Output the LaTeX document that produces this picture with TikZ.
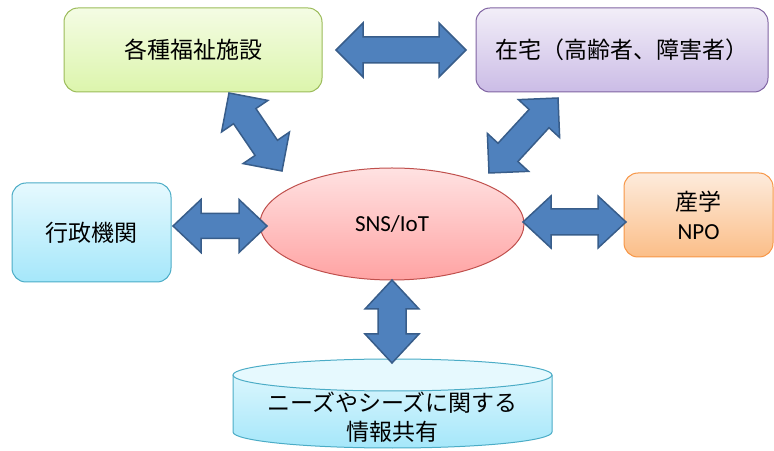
\documentclass[tikz,border=0pt]{standalone}
\usepackage{fontspec}
\setmainfont{Carlito}
\newfontfamily\cjk{Noto Sans CJK JP}
\usetikzlibrary{calc,shapes.geometric}
\definecolor{gTop}{HTML}{F4FCE4}
\definecolor{gBot}{HTML}{DCF5AC}
\definecolor{gLine}{HTML}{9BBB59}
\definecolor{pTop}{HTML}{F2EEF8}
\definecolor{pBot}{HTML}{CBBCE6}
\definecolor{pLine}{HTML}{8064A2}
\definecolor{bTop}{HTML}{E6F9FE}
\definecolor{bBot}{HTML}{A5E7FA}
\definecolor{bLine}{HTML}{4BACC6}
\definecolor{oTop}{HTML}{FDEBDC}
\definecolor{oBot}{HTML}{FBBE88}
\definecolor{oLine}{HTML}{F79646}
\definecolor{rTop}{HTML}{FFE2E2}
\definecolor{rBot}{HTML}{FFA3A3}
\definecolor{rLine}{HTML}{C0504D}
\definecolor{aFill}{HTML}{4F81BD}
\definecolor{aLine}{HTML}{385D8A}
\newcommand\dblarrow[5]{% tip A, tip B, head length, head half width, shaft half width
  \filldraw[arrowbody]
    (#1) -- ($(#1)!#3!(#2)!#4!90:(#2)$) -- ($(#1)!#3!(#2)!#5!90:(#2)$)
    -- ($(#2)!#3!(#1)!#5!-90:(#1)$) -- ($(#2)!#3!(#1)!#4!-90:(#1)$)
    -- (#2) -- ($(#2)!#3!(#1)!#4!90:(#1)$) -- ($(#2)!#3!(#1)!#5!90:(#1)$)
    -- ($(#1)!#3!(#2)!#5!-90:(#2)$) -- ($(#1)!#3!(#2)!#4!-90:(#2)$) -- cycle;}
\begin{document}
\begin{tikzpicture}[x=1pt,y=1pt,
  box/.style={rounded corners=14pt, line width=1pt, align=center,
    font=\fontsize{23}{29}\selectfont},
  cjkfont/.style={font=\cjk\fontsize{23}{29}\selectfont},
  arrowbody/.style={fill=aFill, draw=aLine, line width=1.5pt, line join=miter}]
\useasboundingbox (0,0) rectangle (774,450);
% boxes
\node[box, cjkfont, top color=gTop, bottom color=gBot, draw=gLine,
  minimum width=258pt, minimum height=84pt] (fac) at (193,400) {各種福祉施設};
\node[box, cjkfont, top color=pTop, bottom color=pBot, draw=pLine,
  minimum width=292pt, minimum height=84pt] (home) at (622,400) {在宅（高齢者、障害者）};
\node[box, cjkfont, top color=bTop, bottom color=bBot, draw=bLine,
  minimum width=159pt, minimum height=99pt] (gov) at (91.5,217.5) {行政機関};
\node[box, top color=oTop, bottom color=oBot, draw=oLine,
  minimum width=149pt, minimum height=84pt] (ind) at (698.5,235) {{\cjk 産学}\\NPO};
\node[ellipse, line width=1pt, top color=rTop, bottom color=rBot, draw=rLine,
  minimum width=264pt, minimum height=112pt,
  font=\fontsize{23}{29}\selectfont] (sns) at (392,226) {SNS/IoT};
% cylinder
\path[top color=bTop, bottom color=bBot]
  (233pt,75pt) -- (233pt,18pt) arc[start angle=180, end angle=360, x radius=159.5pt, y radius=16pt]
  -- (552pt,75pt) arc[start angle=0, end angle=180, x radius=159.5pt, y radius=16pt] -- cycle;
\draw[bLine, line width=1pt]
  (233pt,75pt) -- (233pt,18pt) arc[start angle=180, end angle=360, x radius=159.5pt, y radius=16pt]
  -- (552pt,75pt);
\draw[bLine, line width=1pt, fill=bTop] (392.5,75) ellipse [x radius=159.5pt, y radius=16pt];
\node[cjkfont, align=center] (db) at (392.5,33) {ニーズやシーズに関する\\情報共有};
% arrow tips
\coordinate (t1a) at (336,400); \coordinate (t1b) at (466,400);
\coordinate (t2a) at (173,224); \coordinate (t2b) at (267,224);
\coordinate (t3a) at (523,228); \coordinate (t3b) at (626,228);
\coordinate (t4a) at (392,170); \coordinate (t4b) at (392,87);
\coordinate (t5a) at (229,357); \coordinate (t5b) at (282,279);
\coordinate (t6a) at (558,352); \coordinate (t6b) at (489,277);
\dblarrow{t1a}{t1b}{27pt}{27pt}{13pt}
\dblarrow{t2a}{t2b}{28pt}{26.5pt}{12.5pt}
\dblarrow{t3a}{t3b}{28pt}{26pt}{13pt}
\dblarrow{t4a}{t4b}{29pt}{27pt}{14pt}
\dblarrow{t5a}{t5b}{28pt}{28pt}{13.5pt}
\dblarrow{t6a}{t6b}{28pt}{28pt}{13.5pt}
\end{tikzpicture}
\end{document}
